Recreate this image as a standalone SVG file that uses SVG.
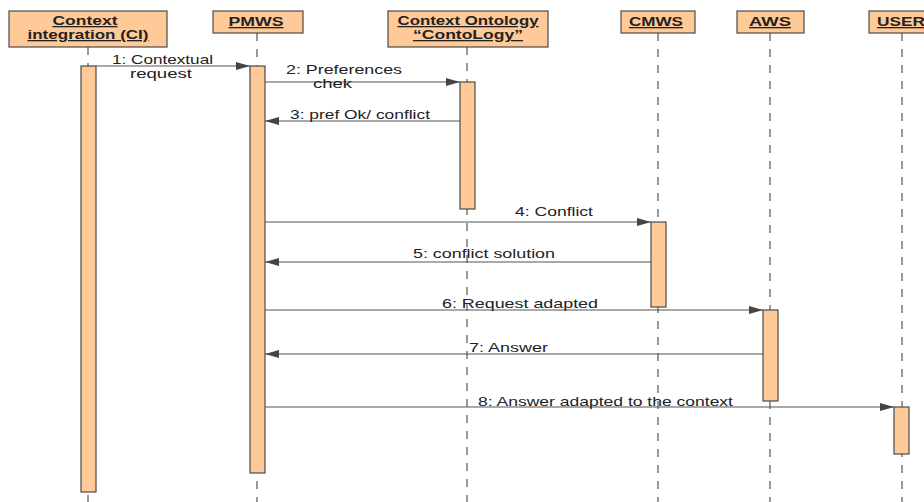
<svg xmlns="http://www.w3.org/2000/svg" width="924" height="502" viewBox="0 0 924 502">
  <style>
    .obj { fill: #FFCA98; stroke: #4a4a4a; stroke-width: 1.2; }
    .act { fill: #FFCA98; stroke: #4a4a4a; stroke-width: 1.2; }
    .life { stroke: #555; stroke-width: 1.2; stroke-dasharray: 8 8; fill: none; }
    .msg { stroke: #555; stroke-width: 1.2; fill: none; marker-end: url(#arrow); }
    .hd { font-family: "Liberation Sans", Arial, sans-serif; font-size: 13px; font-weight: bold; fill: #222; text-anchor: middle; text-decoration: underline; }
    .lbl { font-family: "Liberation Sans", Arial, sans-serif; font-size: 13px; fill: #222; }
  </style>
  <defs>
    <marker id="arrow" viewBox="0 0 14 10" refX="14" refY="5" markerWidth="14" markerHeight="10" markerUnits="userSpaceOnUse" orient="auto">
      <path d="M0,1 L14,5 L0,9 Z" fill="#444"/>
    </marker>
  </defs>
  <rect width="924" height="502" fill="#fff"/>

  <!-- lifelines -->
  <g id="lifelines">
    <line class="life" x1="88" y1="47" x2="88" y2="502"/>
    <line class="life" x1="257" y1="33" x2="257" y2="502"/>
    <line class="life" x1="467" y1="47" x2="467" y2="502"/>
    <line class="life" x1="658" y1="33" x2="658" y2="502"/>
    <line class="life" x1="770" y1="33" x2="770" y2="502"/>
    <line class="life" x1="902" y1="33" x2="902" y2="502"/>
  </g>

  <!-- objects with their activation bars -->
  <g id="ci">
    <rect class="obj" x="9" y="11" width="158" height="36"/>
    <text class="hd" x="85" y="25" textLength="65" lengthAdjust="spacingAndGlyphs">Context</text>
    <text class="hd" x="88" y="39" textLength="121" lengthAdjust="spacingAndGlyphs">integration (CI)</text>
    <rect class="act" x="81" y="66" width="15" height="426"/>
  </g>
  <g id="pmws">
    <rect class="obj" x="213" y="11" width="90" height="22"/>
    <text class="hd" x="256" y="26" textLength="55" lengthAdjust="spacingAndGlyphs">PMWS</text>
    <rect class="act" x="250" y="66" width="15" height="407"/>
  </g>
  <g id="contology">
    <rect class="obj" x="388" y="11" width="160" height="36"/>
    <text class="hd" x="468" y="25" textLength="141" lengthAdjust="spacingAndGlyphs">Context Ontology</text>
    <text class="hd" x="468" y="39" textLength="110" lengthAdjust="spacingAndGlyphs">“ContoLogy”</text>
    <rect class="act" x="460" y="82" width="15" height="127"/>
  </g>
  <g id="cmws">
    <rect class="obj" x="621" y="11" width="74" height="22"/>
    <text class="hd" x="656" y="26" textLength="54" lengthAdjust="spacingAndGlyphs">CMWS</text>
    <rect class="act" x="651" y="222" width="15" height="85"/>
  </g>
  <g id="aws">
    <rect class="obj" x="737" y="11" width="67" height="22"/>
    <text class="hd" x="770" y="26" textLength="42" lengthAdjust="spacingAndGlyphs">AWS</text>
    <rect class="act" x="763" y="310" width="15" height="91"/>
  </g>
  <g id="user">
    <rect class="obj" x="869" y="11" width="70" height="22"/>
    <text class="hd" x="901" y="26" textLength="48" lengthAdjust="spacingAndGlyphs">USER</text>
    <rect class="act" x="894" y="407" width="15" height="47"/>
  </g>

  <!-- messages -->
  <g id="connectors">
    <line class="msg" x1="96" y1="66" x2="250" y2="66"/>
    <line class="msg" x1="265" y1="82" x2="460" y2="82"/>
    <line class="msg" x1="460" y1="121" x2="265" y2="121"/>
    <line class="msg" x1="265" y1="222" x2="651" y2="222"/>
    <line class="msg" x1="651" y1="262" x2="265" y2="262"/>
    <line class="msg" x1="265" y1="310" x2="763" y2="310"/>
    <line class="msg" x1="763" y1="354" x2="265" y2="354"/>
    <line class="msg" x1="265" y1="407" x2="894" y2="407"/>
  </g>

  <g id="labels">
    <text class="lbl" x="112" y="64" textLength="101" lengthAdjust="spacingAndGlyphs">1: Contextual</text>
    <text class="lbl" x="130" y="78" textLength="62" lengthAdjust="spacingAndGlyphs">request</text>
    <text class="lbl" x="286" y="74" textLength="116" lengthAdjust="spacingAndGlyphs">2: Preferences</text>
    <text class="lbl" x="313" y="88" textLength="39" lengthAdjust="spacingAndGlyphs">chek</text>
    <text class="lbl" x="290" y="119" textLength="140" lengthAdjust="spacingAndGlyphs">3: pref Ok/ conflict</text>
    <text class="lbl" x="515" y="216" textLength="78" lengthAdjust="spacingAndGlyphs">4: Conflict</text>
    <text class="lbl" x="413" y="258" textLength="142" lengthAdjust="spacingAndGlyphs">5: conflict solution</text>
    <text class="lbl" x="442" y="308" textLength="156" lengthAdjust="spacingAndGlyphs">6: Request adapted</text>
    <text class="lbl" x="469" y="352" textLength="79" lengthAdjust="spacingAndGlyphs">7: Answer</text>
    <text class="lbl" x="478" y="406" textLength="255" lengthAdjust="spacingAndGlyphs">8: Answer adapted to the context</text>
  </g>
</svg>
